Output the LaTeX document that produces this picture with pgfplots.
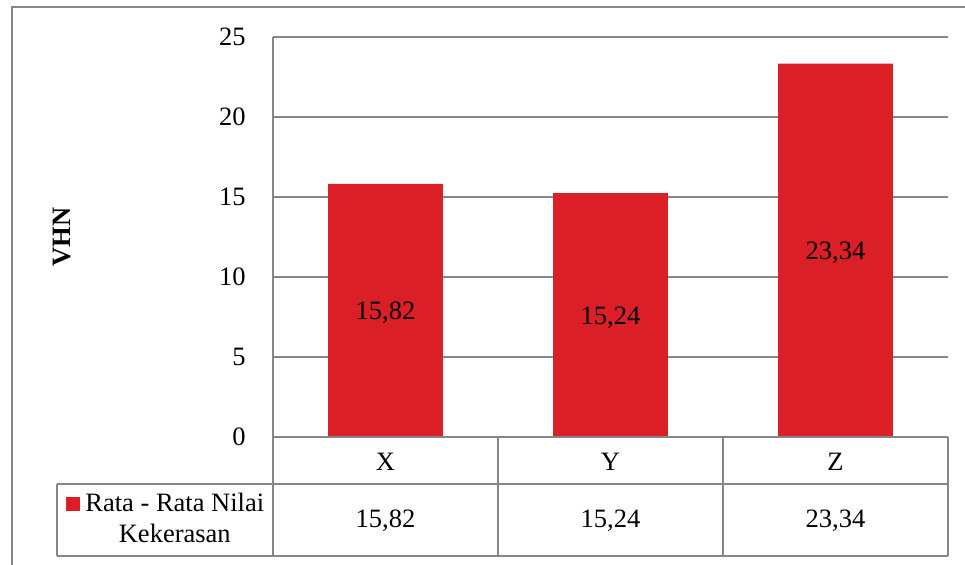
\documentclass[border=0pt]{standalone}
\usepackage{fontspec}
\setmainfont{Liberation Serif}
\usepackage{pgfplots}
\pgfplotsset{compat=1.18}
\definecolor{barred}{RGB}{218,31,39}
\definecolor{linegray}{RGB}{134,134,134}
\begin{document}
\fontsize{13.25}{15.5}\selectfont
\begin{tikzpicture}[font=\fontsize{13.25}{15.5}\selectfont]
\useasboundingbox (-136.5pt,-64pt) rectangle (346pt,218.5pt);
\draw[linegray, line width=1pt] (-130.5pt,-80pt) -- (-130.5pt,215pt) -- (360pt,215pt);
\begin{axis}[
  at={(0pt,0pt)}, anchor=south west,
  scale only axis, width=337.5pt, height=200pt,
  xmin=-0.5, xmax=2.5, ymin=0, ymax=25,
  ybar, bar width=0.511,
  axis line style={draw=none},
  major tick length=0pt,
  ytick={0,5,10,15,20,25},
  xtick={0,1,2}, xticklabels={X,Y,Z},
  xticklabel style={anchor=center, yshift=-12.5pt, inner sep=0pt},
  yticklabel style={anchor=east, inner sep=0pt, xshift=-13.5pt},
  ymajorgrids, grid style={linegray, line width=0.75pt},
  /pgf/number format/assume math mode=true,
  ylabel={VHN},
  ylabel style={at={(axis description cs:-0.3126,0.5)}, anchor=center, font=\fontsize{13.25}{15.5}\selectfont\bfseries},
  clip=false,
  legend style={at={(axis description cs:-0.3067,-0.2075)}, anchor=west, draw=none, fill=none, inner sep=0pt,
    cells={align=center, anchor=center}, nodes={inner xsep=2.5pt, inner ysep=0pt, font=\fontsize{13.25}{15.5}\selectfont}},
  legend image code/.code={\fill[barred] (0pt,4.3pt) rectangle (7pt,11.3pt);},
  visualization depends on=rawy \as \rawy,
  nodes near coords={\pgfmathprintnumber[fixed, fixed zerofill, precision=2, use comma, assume math mode=true]{\pgfplotspointmeta}},
  every node near coord/.append style={anchor=center, yshift=-4pt*\rawy-1.2pt, black},
]
\addplot[fill=barred, draw=none] coordinates {(0,15.82) (1,15.24) (2,23.34)};
\addlegendentry{Rata - Rata Nilai\\Kekerasan}
\node at (axis cs:0,0) [yshift=-42pt] {15,82};
\node at (axis cs:1,0) [yshift=-42pt] {15,24};
\node at (axis cs:2,0) [yshift=-42pt] {23,34};
\end{axis}
\begin{scope}[linegray, line width=0.75pt]
\draw (0pt,200pt) -- (0pt,-59.5pt);
\draw (0pt,0pt) -- (337.5pt,0pt);
\draw (112.5pt,0pt) -- (112.5pt,-59.5pt);
\draw (225pt,0pt) -- (225pt,-59.5pt);
\draw (337.5pt,0pt) -- (337.5pt,-59.5pt);
\draw (-108pt,-23.5pt) -- (337.5pt,-23.5pt);
\draw (-108pt,-59.5pt) -- (337.5pt,-59.5pt);
\draw (-108pt,-23.5pt) -- (-108pt,-59.5pt);
\end{scope}
\end{tikzpicture}
\end{document}
